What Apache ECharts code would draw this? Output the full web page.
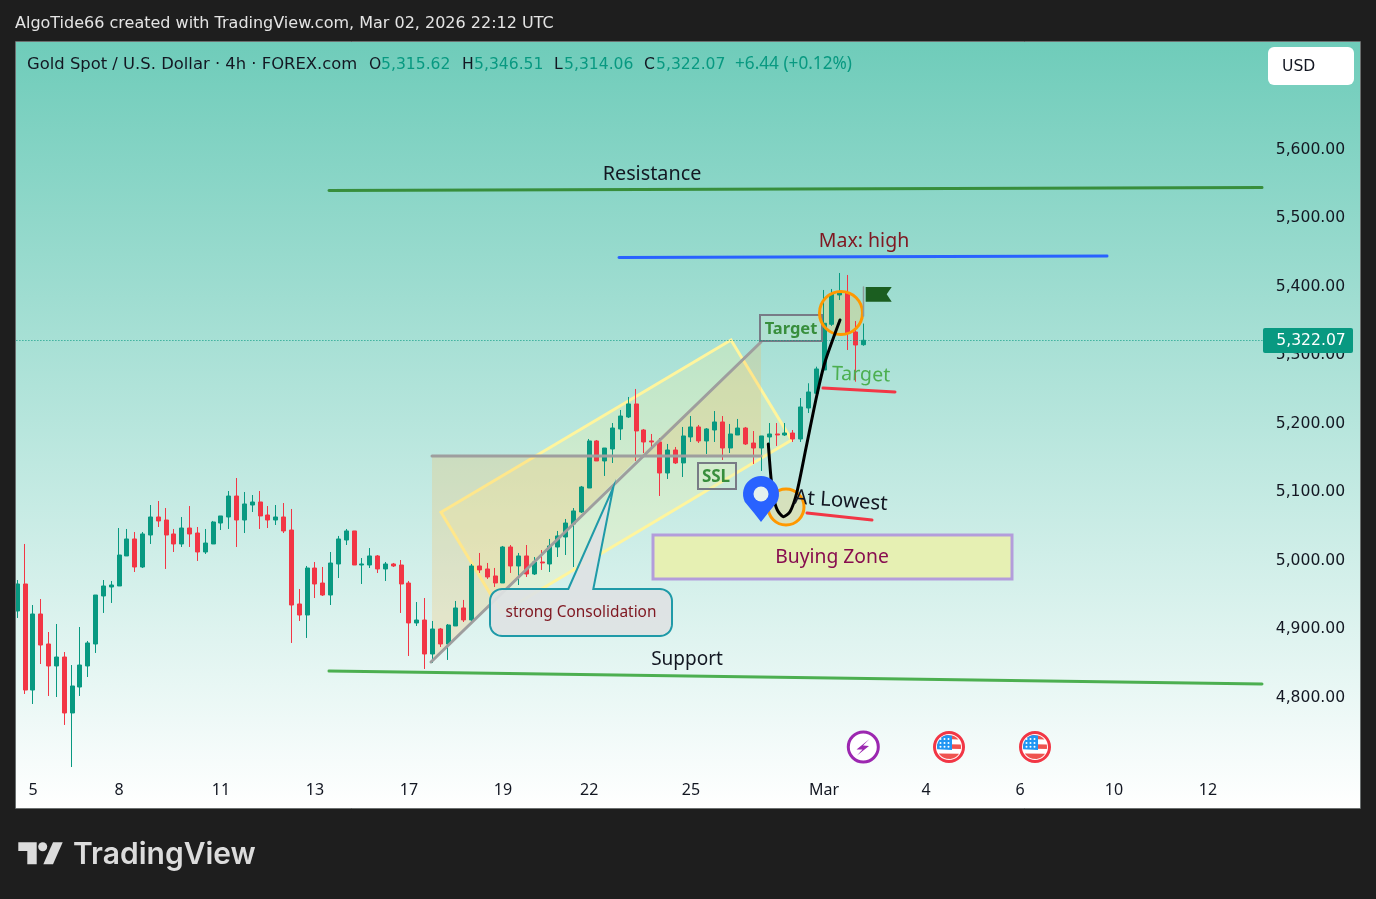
<!DOCTYPE html>
<html><head><meta charset="utf-8">
<style>html,body{margin:0;padding:0;background:#1e1e1e}#c{width:1376px;height:899px}</style>
<script src="https://cdn.jsdelivr.net/npm/echarts@6/dist/echarts.min.js"></script>
</head><body><div id="c"></div>
<script>
const opens=[4926.9,4966.3,4811.5,4922.5,4878.7,4846.6,4859.7,4778.0,4815.9,4846.6,
4878.7,4948.8,4961.9,4963.4,5007.2,5032.0,4991.1,5037.8,5064.1,5059.7,
5039.3,5024.7,5048.0,5040.7,5013.0,5024.7,5055.3,5064.1,5094.7,5059.7,
5081.6,5086.0,5067.0,5059.7,5064.1,5045.1,4937.1,4921.0,4989.6,4967.7,
4950.2,4995.5,5030.5,5043.7,4994.0,4994.0,5007.2,4988.2,4995.5,4994.0,
4967.7,4909.4,4913.7,4864.1,4900.6,4878.7,4905.0,4931.3,4913.8,4992.6,
4988.2,4978.0,4967.8,5020.3,4992.6,5007.2,4980.9,4998.4,4995.5,5020.3,
5034.9,5053.9,5071.4,5106.4,5175.1,5145.9,5163.4,5192.6,5210.1,5229.1,
5191.1,5175.1,5173.6,5128.3,5161.9,5143.0,5180.9,5195.5,5175.1,5191.1,
5202.8,5164.8,5183.8,5194.0,5172.1,5164.8,5180.9,5185.3,5183.8,5186.7,
5178.0,5223.2,5244.7,5278.7,5345.4,5388.2,5391.1,5334.2,5315.62];
const closes=[4966.3,4811.5,4922.5,4877.2,4846.6,4859.7,4778.0,4817.4,4848.0,4880.2,
4950.2,4963.4,4964.8,5008.6,5032.0,4991.1,5039.3,5064.1,5058.3,5037.8,
5024.7,5048.0,5039.3,5013.0,5026.1,5056.8,5065.6,5094.7,5059.7,5083.1,
5086.0,5065.6,5059.7,5064.1,5043.7,4935.6,4921.0,4989.6,4966.3,4950.2,
4996.9,5032.0,5043.7,4994.0,4995.5,5007.2,4988.2,4995.5,4992.6,4966.3,
4909.4,4913.7,4864.1,4900.6,4878.7,4906.4,4931.3,4913.8,4992.6,4986.8,
4976.5,4967.8,5020.3,4992.6,5007.2,4980.9,4998.4,4997.0,5021.8,5036.4,
5055.3,5072.9,5107.9,5175.1,5145.9,5164.8,5194.0,5211.5,5229.1,5189.7,
5173.6,5173.6,5128.3,5161.9,5143.0,5182.4,5195.5,5175.1,5192.6,5202.8,
5164.8,5185.3,5194.0,5170.7,5164.8,5182.4,5185.3,5183.8,5186.7,5178.0,
5224.7,5246.6,5280.2,5346.9,5389.7,5391.1,5332.7,5315.2,5322.07];
const lows=[4916.7,4805.7,4791.1,4849.5,4802.8,4801.3,4760.5,4699.1,4802.8,4830.5,
4865.6,4924.0,4938.6,4963.4,5007.2,4983.8,4989.6,5024.7,5049.5,4988.2,
5013.0,5020.3,5020.3,4999.9,5010.1,5024.7,5045.1,5046.6,5020.3,5040.7,
5071.4,5046.6,5048.0,5052.4,5040.7,4880.2,4912.3,4887.5,4945.8,4948.8,
4935.6,4975.0,5023.2,4994.0,4966.3,4989.6,4982.3,4970.7,4991.1,4924.0,
4861.2,4905.0,4842.2,4851.0,4874.3,4855.4,4905.0,4910.8,4907.9,4982.4,
4973.6,4961.9,4967.8,4982.4,4964.8,4976.5,4979.4,4986.8,4983.8,5005.7,
5008.6,4991.1,5069.9,5106.4,5145.9,5124.0,5142.9,5176.5,5208.6,5145.9,
5157.5,5163.4,5094.8,5119.6,5141.5,5122.5,5173.6,5172.1,5156.1,5173.6,
5147.3,5157.5,5183.8,5169.2,5141.5,5131.3,5167.8,5167.8,5182.4,5173.6,
5173.6,5215.9,5240.7,5278.7,5343.0,5380.9,5307.9,5261.6,5314.06];
const highs=[4972.1,5024.7,4935.6,4944.4,4896.2,4907.9,4867.0,4848.0,4903.5,4883.1,
4950.2,4972.1,4970.7,5048.0,5046.6,5042.2,5042.2,5081.6,5087.4,5077.2,
5046.6,5064.1,5080.1,5049.5,5046.6,5058.3,5065.6,5102.0,5121.0,5100.6,
5096.2,5102.0,5080.1,5081.6,5084.5,5075.8,4959.0,4992.6,4998.4,4991.1,
5013.0,5036.4,5046.6,5043.7,5004.2,5018.8,5008.6,4998.4,4997.0,5001.3,
4970.7,4940.0,4945.8,4912.3,4902.1,4907.9,4941.5,4943.0,4995.5,5011.6,
4997.0,4989.7,5021.8,5023.2,5011.6,5023.2,5005.7,5015.9,5032.0,5043.7,
5061.2,5077.2,5109.4,5178.0,5176.5,5164.8,5201.3,5220.3,5239.3,5251.0,
5192.6,5185.3,5179.4,5170.7,5166.3,5195.5,5211.5,5198.4,5194.0,5218.8,
5211.5,5199.9,5207.2,5195.5,5189.6,5182.4,5201.3,5201.3,5201.3,5191.1,
5237.8,5259.3,5283.5,5395.5,5397.0,5420.3,5417.4,5350.2,5346.51];
const timeTickBars=[2,13,26,38,50,62,73,86,103,116,128,140,152];
const timeTickLabels=['5','8','11','13','17','19','22','25','Mar','4','6','10','12'];
const priceTicks=[4800,4900,5000,5100,5200,5300,5400,5500,5600];
const lastClose=5322.07;

const FONT='"Noto Sans"', NUM='"DejaVu Sans"';
const INK='#131722', GREEN='#089981', RED='#F23645';
const candleData=opens.map((o,i)=>[o,closes[i],lows[i],highs[i]]);
const categories=Array.from({length:160},(_,i)=>{const k=timeTickBars.indexOf(i);return k>=0?timeTickLabels[k]:'';});

const Z={bg:-5,fill:1,draw:5,top:7,frame:8,label:9};
function rect(x,y,w,h,fill,opt={}){return {type:'rect',z:opt.z??Z.draw,silent:true,shape:{x,y,width:w,height:h,r:opt.r||0},style:{fill,stroke:opt.stroke||null,lineWidth:opt.lw||0}};}
function line(x1,y1,x2,y2,color,w=3,z=Z.draw){return {type:'line',z,silent:true,shape:{x1,y1,x2,y2},style:{stroke:color,lineWidth:w,lineCap:'round'}};}
function poly(points,fill,stroke,lw,z=Z.fill){return {type:'polygon',z,silent:true,shape:{points},style:{fill,stroke,lineWidth:lw,lineJoin:'miter'}};}
function text(str,x,y,size,color,opt={}){return {type:'text',z:opt.z??Z.top,silent:true,x,y,rotation:opt.rot||0,style:{text:str,x:0,y:0,fill:color,font:`${opt.weight||'normal'} ${size}px ${opt.font||FONT}`,align:opt.align||'left',verticalAlign:'middle'}};}
function circle(cx,cy,r,fill,stroke,lw,z=Z.draw){return {type:'circle',z,silent:true,shape:{cx,cy,r},style:{fill,stroke,lineWidth:lw}};}
function discBand(cx,cy,R,x0,x1,y0,y1){
  const pts=[];
  for(let y=y0;y<=y1+0.001;y+=0.75){const d=Math.sqrt(Math.max(0,R*R-(y-cy)*(y-cy)));pts.push([Math.min(Math.max(x0,cx-d),cx+d),y]);}
  for(let y=y1;y>=y0-0.001;y-=0.75){const d=Math.sqrt(Math.max(0,R*R-(y-cy)*(y-cy)));pts.push([Math.min(x1,cx+d),y]);}
  return pts;
}
function arcPts(cx,cy,r,a0,a1,n=10){const p=[];for(let i=0;i<=n;i++){const a=a0+(a1-a0)*i/n;p.push([cx+r*Math.cos(a),cy+r*Math.sin(a)]);}return p;}
const PI=Math.PI;
function usFlag(cx,cy){
  const R=12,out=[circle(cx,cy,14.5,'#fff',RED,3,Z.top)];
  [[-11.9,-7.5],[-3,2],[6.5,11.9]].forEach(b=>out.push(poly(discBand(cx,cy,R,cx-R,cx+R,cy+b[0],cy+b[1]),'#ef5350',null,0,Z.top)));
  out.push(poly(discBand(cx,cy,R,cx-R,cx+3,cy-11.9,cy+3),'#2196f3',null,0,Z.top));
  for(let r=0;r<3;r++)for(let c=0;c<3;c++)out.push(circle(cx-8.5+c*4,cy-8+r*3.9,1,'#fff',null,0,Z.top));
  return out;
}
const pinOutline=[[761,522],[754,513],...arcPts(761,494,18,PI*0.86,PI*2.14,24),[768,513]];
const calloutOutline=[[568.3,589],[613.3,487.3],[593.3,589],
  ...arcPts(660,601,12,-PI/2,0),...arcPts(660,624,12,0,PI/2),...arcPts(502,624,12,PI/2,PI),...arcPts(502,601,12,PI,PI*1.5)];

const elements=[
  {type:'rect',z:Z.bg,silent:true,shape:{x:16,y:42,width:1344,height:766},style:{fill:{type:'linear',x:0,y:0,x2:0,y2:1,colorStops:[{offset:0,color:'#6fccba'},{offset:1,color:'#ffffff'}]}}},
  poly([[441,512.3],[731,340],[791.7,440],[501.7,612.7]],'rgba(255,245,157,0.25)',null,0),
  poly([[441,512.3],[731,340],[791.7,440],[501.7,612.7]],'none','#fff59d',3,Z.fill),
  poly([[432,456],[432,662],[640,456]],'rgba(255,183,77,0.22)',null,0,Z.fill+1),
  poly([[640,456],[761,342],[761,456]],'rgba(255,183,77,0.22)',null,0,Z.fill+1),
  circle(841,313,21.5,'rgba(255,200,90,0.28)',null,0,Z.fill+1),
  circle(786,507,18,'rgba(255,200,90,0.28)',null,0,Z.fill+1),
  line(432,456,761,456,'#9e9e9e',3),
  line(431,662,761,342,'#9e9e9e',3),
  line(329,190.5,1262,187.5,'#388e3c',3),
  line(619,257.5,1107,256,'#2962ff',3),
  line(329,671,1262,684,'#4caf50',3),
  line(823,388,895,392,RED,3),
  line(807,513,872,520,RED,3),
  text('Resistance',652,174,19.8,INK,{align:'center'}),
  text('Max: high',864,241,19.5,'#801922',{align:'center'}),
  text('Support',687,660,19,INK,{align:'center'}),
  text('Target',861,375,19.6,'#4caf50',{align:'center',rot:-0.03}),
  text('At Lowest',841,501,20.5,INK,{align:'center',rot:-0.07}),
  rect(653,535,359,44,'#e6f0b3',{stroke:'#b39ddb',lw:3}),
  text('Buying Zone',832,558,19.3,'#880e4f',{align:'center'}),
  rect(760,315,62,26,'rgba(220,232,200,0.2)',{stroke:'#787b86',lw:2}),
  text('Target',791,329,16.5,'#388e3c',{align:'center',weight:'bold'}),
  rect(698,463,38,26,'rgba(225,240,200,0.25)',{stroke:'#787b86',lw:2}),
  text('SSL',716,477,17,'#388e3c',{align:'center',weight:'bold'}),
  circle(841,313,21.5,'none','#ff9800',3),
  circle(786,507,18,'none','#ff9800',3),
  {type:'polyline',z:Z.draw+1,silent:true,shape:{points:[[768.3,444],[769.5,460],[771,478],[773.5,497],[777.3,510],[783.3,516.7],[790,511.7],[796.7,493],[806,448],[816.7,396],[825,362],[840,320]],smooth:0.25},style:{fill:'none',stroke:'#000',lineWidth:3,lineCap:'round'}},
  poly(pinOutline,'#2962ff',null,0,Z.top),
  circle(761,494,7.5,'#e6f2ee',null,0,Z.top),
  line(863.5,287,863.5,316,'#8f9a98',1.5),
  poly([[865.7,287],[891.7,287],[886.7,294.3],[891.7,301.7],[865.7,301.7]],'#1b5e20',null,0,Z.draw),
  poly(calloutOutline,'rgba(222,226,227,0.93)','#1f9aa8',2,Z.top),
  text('strong Consolidation',581,612.5,15.4,'#801922',{align:'center'}),
  circle(863.3,747,15,'#fff','#9c27b0',3,Z.top),
  poly([[869.5,739],[856.5,749.5],[862.5,749.5],[857,755.5],[869,746],[863,745.5]],'#9c27b0',null,0,Z.top),
  ...usFlag(949,747),
  ...usFlag(1035,747),
  rect(0,42,15.5,766,'#1e1e1e',{z:Z.frame}),
  rect(15.5,41.5,1345,767,'none',{z:Z.frame,stroke:'#6b6f6f',lw:1}),
  text('AlgoTide66 created with TradingView.com, Mar 02, 2026 22:12 UTC',15,24,16,'#e4e4e4',{z:Z.label,font:NUM}),
  text('Gold Spot / U.S. Dollar · 4h · FOREX.com',27,65,16.4,INK,{z:Z.label,font:NUM}),
  text('O',369,65,15.6,INK,{z:Z.label,font:NUM}),text('5,315.62',381,65,15.6,GREEN,{z:Z.label,font:NUM}),
  text('H',462,65,15.6,INK,{z:Z.label,font:NUM}),text('5,346.51',474,65,15.6,GREEN,{z:Z.label,font:NUM}),
  text('L',554,65,15.6,INK,{z:Z.label,font:NUM}),text('5,314.06',564,65,15.6,GREEN,{z:Z.label,font:NUM}),
  text('C',644,65,15.6,INK,{z:Z.label,font:NUM}),text('5,322.07',656,65,15.6,GREEN,{z:Z.label,font:NUM}),
  text('+6.44 (+0.12%)',735,64,17.2,GREEN,{z:Z.label}),
  rect(1268,47,86,38,'#fff',{z:Z.label,r:6}),
  text('USD',1282,67,15.6,INK,{z:Z.label,font:NUM}),
  rect(1263,328,90,25,GREEN,{z:Z.label,r:2}),
  text('5,322.07',1311,341,15.6,'#fff',{z:Z.label,align:'center',font:NUM}),
  poly([[18.3,842.3],[36.7,842.3],[36.7,864.3],[27.3,864.3],[27.3,851],[18.3,851]],'#dcdcdc',null,0,Z.label),
  circle(42.7,846.7,4.5,'#dcdcdc',null,0,Z.label),
  poly([[53,842.3],[62.7,842.3],[53,864.3],[43.3,864.3]],'#dcdcdc',null,0,Z.label),
  text('TradingView',73,855,30,'#dcdcdc',{z:Z.label,font:'Inter',weight:'600'})
];

const chart=echarts.init(document.getElementById('c'),null,{renderer:'canvas'});
chart.setOption({
  animation:false,
  backgroundColor:'#1e1e1e',
  grid:{left:13.4,width:1253.33,top:12.9,height:822},
  tooltip:{show:false},
  xAxis:{type:'category',data:categories,boundaryGap:true,position:'bottom',
    axisLine:{show:false},axisTick:{show:false},splitLine:{show:false},
    axisLabel:{show:true,interval:0,inside:true,margin:36,color:INK,fontFamily:FONT,fontSize:16,hideOverlap:false}},
  yAxis:{type:'value',position:'right',min:4600,max:5800,interval:100,scale:true,
    axisLine:{show:false},axisTick:{show:false},splitLine:{show:false},
    axisLabel:{show:true,margin:9,color:INK,fontFamily:NUM,fontSize:15.6,align:'left',padding:[0,0,5,0],
      formatter:v=>priceTicks.includes(v)?v.toLocaleString('en-US',{minimumFractionDigits:2,maximumFractionDigits:2}):''}},
  series:[{type:'candlestick',data:candleData,barWidth:4.5,z:3,
    itemStyle:{color:GREEN,color0:RED,borderColor:GREEN,borderColor0:RED,borderWidth:1},
    markLine:{silent:true,symbol:'none',label:{show:false},lineStyle:{color:GREEN,type:[1,2],width:1},data:[{yAxis:lastClose}]}}],
  graphic:{elements}
});
</script></body></html>
